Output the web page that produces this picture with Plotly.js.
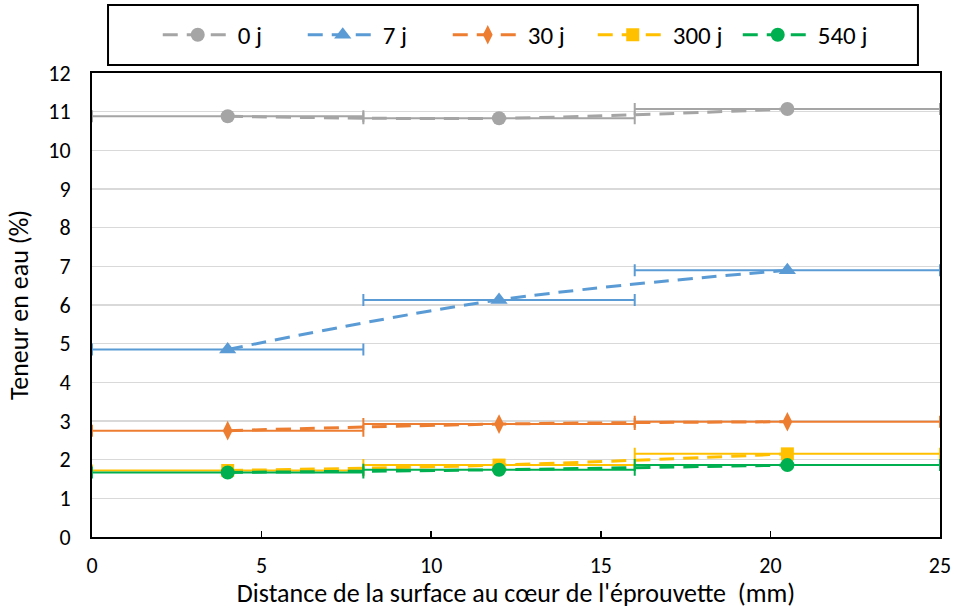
<!DOCTYPE html>
<html>
<head>
<meta charset="utf-8">
<script src="https://cdn.plot.ly/plotly-3.0.1.min.js"></script>
<style>html,body{margin:0;padding:0;background:#fff}#chart{width:954px;height:609px}</style>
</head>
<body>
<div id="chart"></div>
<script>
// Data
const distances = [4, 12, 20.5];
const errMinus = [4, 4, 4.5];
const errPlus = [4, 4, 4.5];
const seriesNames = ["0 j", "7 j", "30 j", "300 j", "540 j"];
const values0j = [10.88, 10.83, 11.07];
const values7j = [4.85, 6.13, 6.9];
const values30j = [2.75, 2.92, 2.98];
const values300j = [1.72, 1.86, 2.15];
const values540j = [1.67, 1.74, 1.86];
const xTickVals = [0, 5, 10, 15, 20, 25];
const yTickVals = [0,1,2,3,4,5,6,7,8,9,10,11,12];

const colors = ["#A5A5A5", "#5B9BD5", "#ED7D31", "#FFC000", "#00B050"];
const symbols = ["circle", "triangle-up", "diamond-tall", "square", "circle"];
const sizes = [14, 15, 14, 13, 14];
const allValues = [values0j, values7j, values30j, values300j, values540j];

const FONT = "Carlito, 'Liberation Sans Narrow', Calibri, 'Open Sans', sans-serif";

const traces = allValues.map((vals, i) => ({
  type: "scatter",
  mode: "lines+markers",
  name: seriesNames[i],
  x: distances,
  y: vals,
  line: {color: colors[i], width: 3, dash: "15px,9px", shape: "spline", smoothing: 1},
  marker: {color: colors[i], symbol: symbols[i], size: sizes[i]},
  error_x: {type: "data", symmetric: false, array: errPlus, arrayminus: errMinus,
            color: colors[i], thickness: 2, width: 6},
  cliponaxis: false
}));

const layout = {
  width: 954, height: 609,
  margin: {l: 92, r: 14, t: 73, b: 72},
  paper_bgcolor: "#fff", plot_bgcolor: "#fff",
  font: {family: FONT, size: 22, color: "#000"},
  showlegend: true,
  legend: {
    orientation: "h", x: 0.505, xanchor: "center", y: 1.082, yanchor: "middle",
    font: {family: FONT, size: 25, color: "#000"},
    itemwidth: 70, entrywidth: 60, bgcolor: "rgba(0,0,0,0)", borderwidth: 0
  },
  xaxis: {
    range: [0, 25], tickvals: xTickVals, ticks: "inside", ticklen: 6, tickwidth: 1.5, tickcolor: "#000",
    showline: true, linecolor: "#000", linewidth: 2, mirror: true, showgrid: false, zeroline: false,
    tickfont: {family: FONT, size: 22}, ticklabelstandoff: 8,
    title: {text: "Distance de la surface au cœur de l'éprouvette  (mm)", font: {family: FONT, size: 26}, standoff: 6}
  },
  yaxis: {
    range: [0, 12], tickvals: yTickVals, ticks: "", showline: true, linecolor: "#000", linewidth: 2, mirror: true,
    showgrid: true, gridcolor: "#D9D9D9", gridwidth: 1.5, zeroline: false,
    tickfont: {family: FONT, size: 22}, ticklabelstandoff: 15,
    title: {text: "Teneur en eau (%)", font: {family: FONT, size: 26}, standoff: 12}
  },
  shapes: [{
    type: "rect", xref: "paper", yref: "paper",
    x0: 0.0189, x1: 0.974, y0: 1.0172, y1: 1.1466,
    line: {color: "#000", width: 2}, fillcolor: "rgba(0,0,0,0)"
  }]
};

Plotly.newPlot("chart", traces, layout, {displayModeBar: false, staticPlot: true});
</script>
</body>
</html>
